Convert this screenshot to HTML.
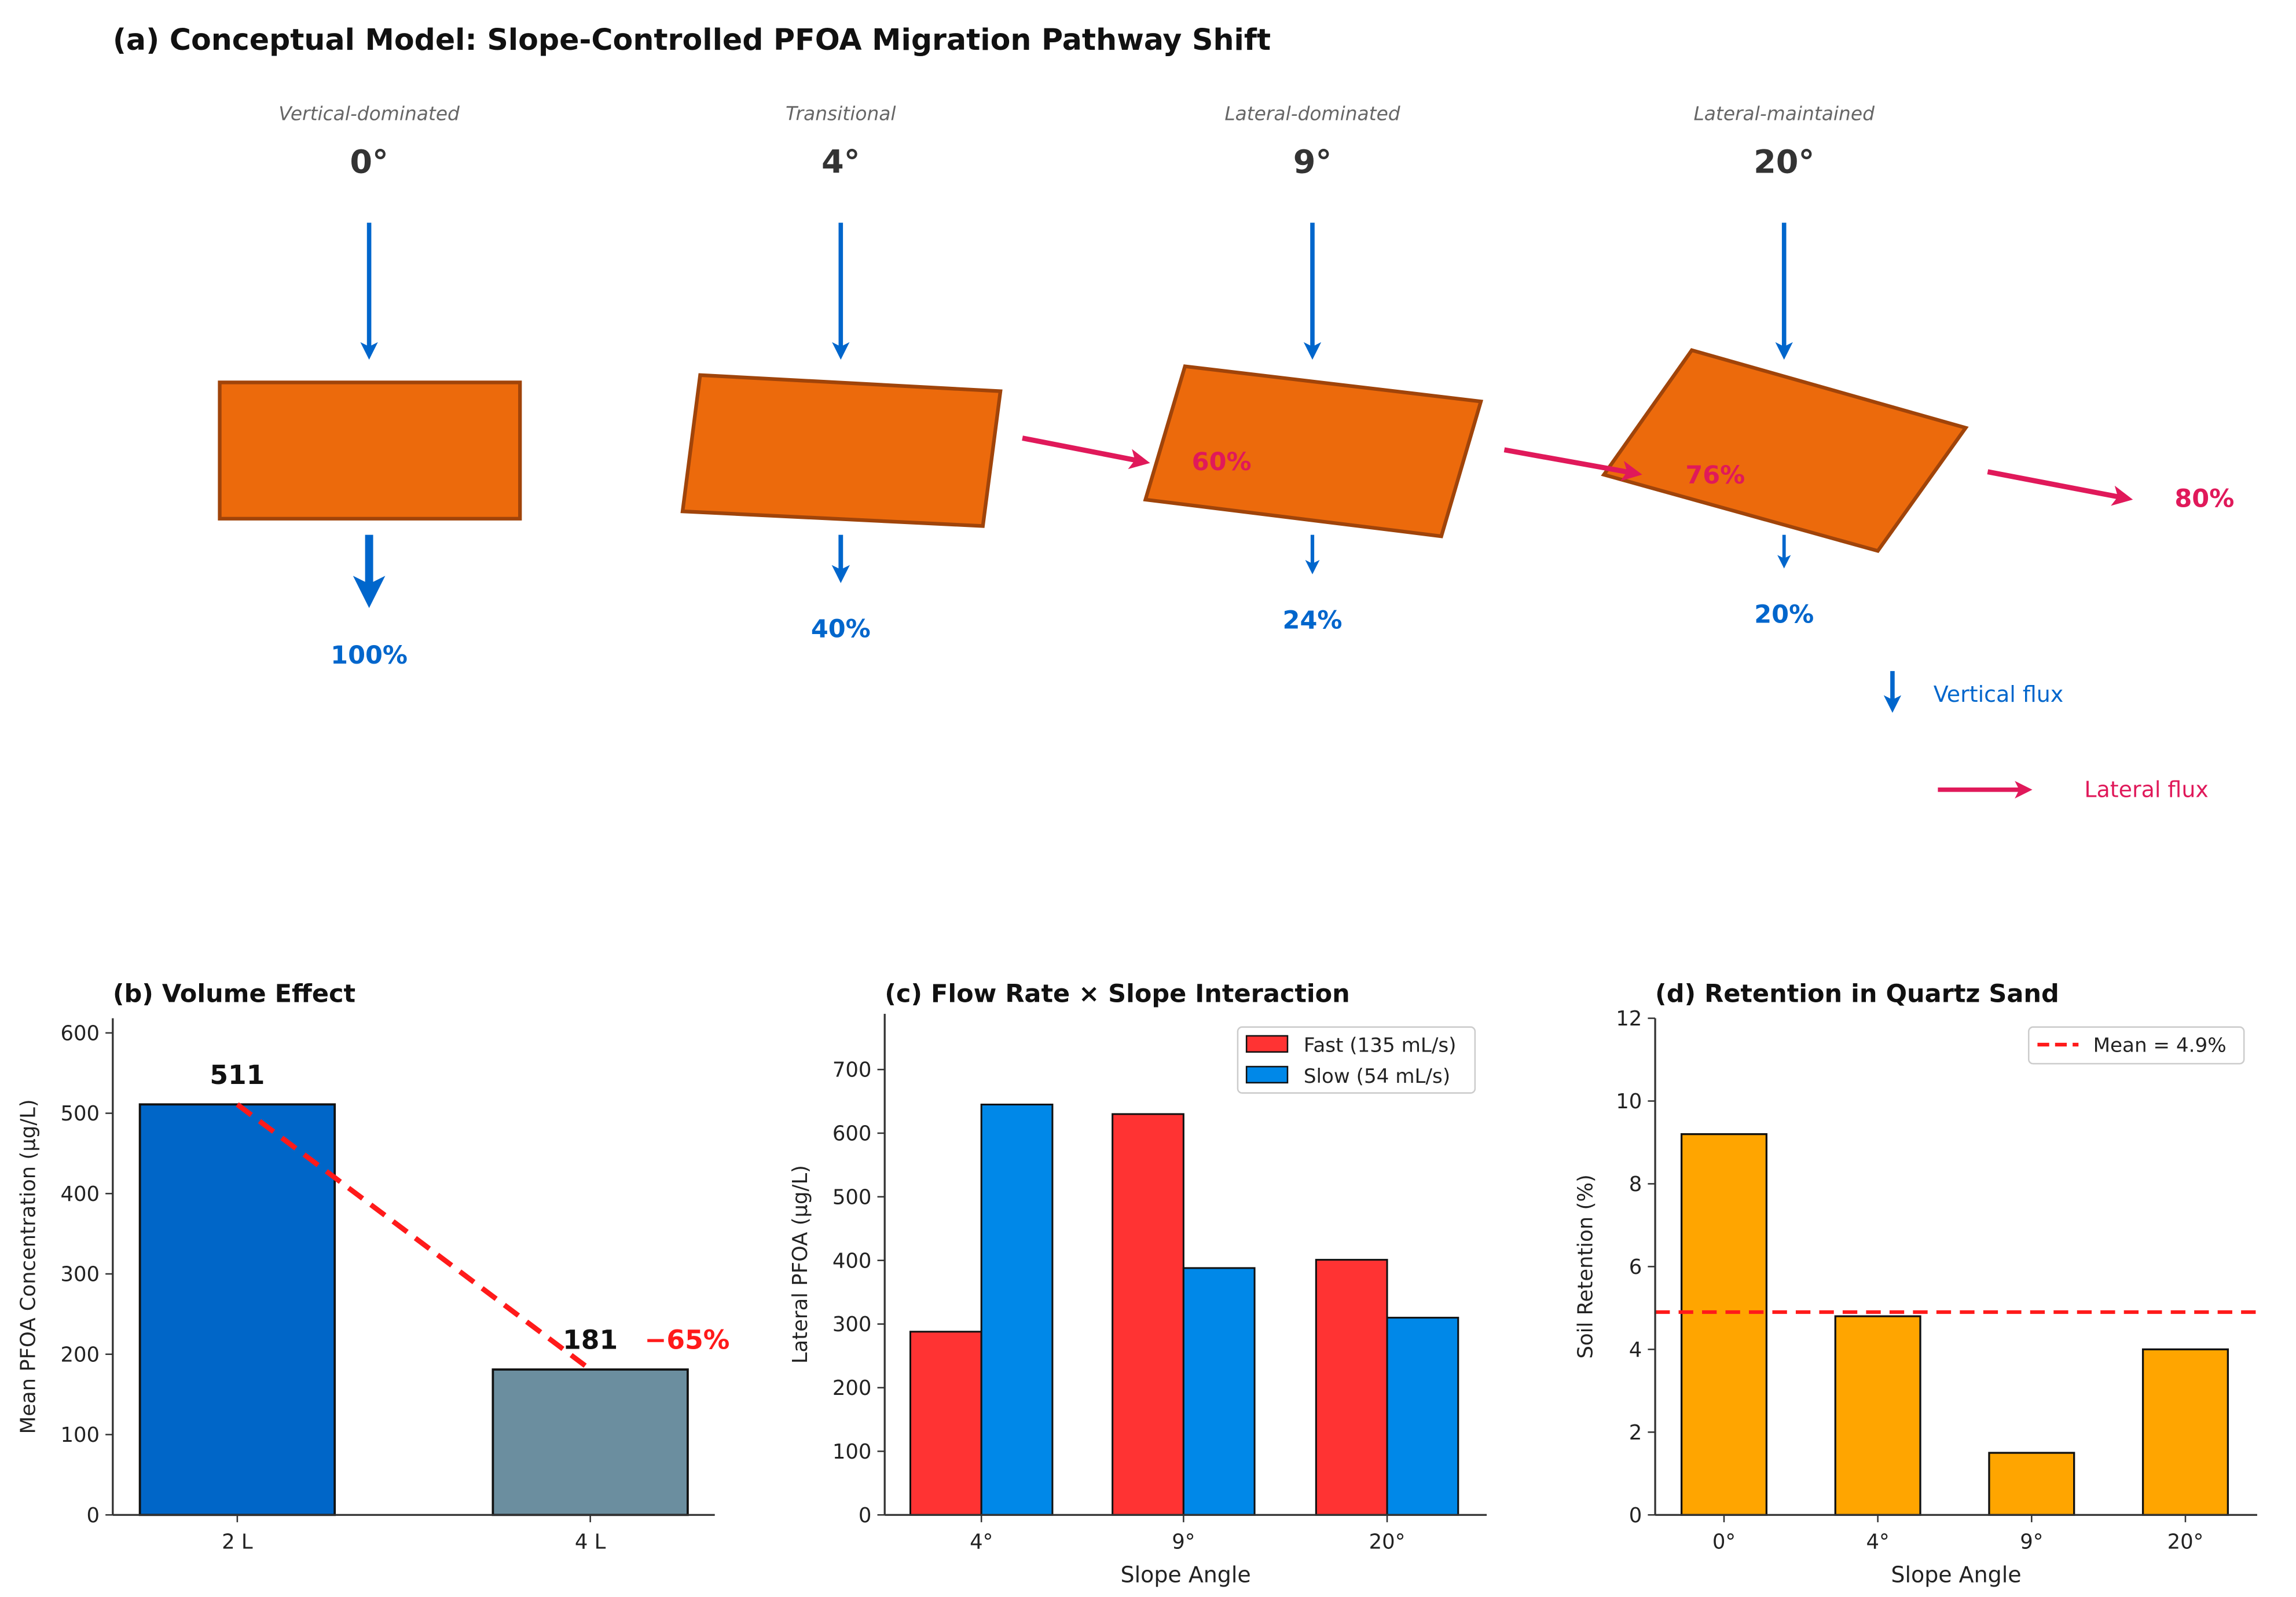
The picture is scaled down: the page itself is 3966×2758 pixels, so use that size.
<!DOCTYPE html>
<html><head><meta charset="utf-8"><style>
html,body{margin:0;padding:0;background:#fff}
svg{display:block}
text{font-family:"DejaVu Sans","Liberation Sans",sans-serif}
</style></head><body>
<svg id="fig" width="3966" height="2758" viewBox="0 0 1567.5 1090" xmlns="http://www.w3.org/2000/svg">
<defs>
<marker id="hb" markerWidth="4" markerHeight="4" refX="2.5" refY="2" orient="auto" markerUnits="strokeWidth"><path d="M0,0 L4,2 L0,4 L1,2 z" fill="#0066cc"/></marker>
<marker id="hp" markerWidth="4" markerHeight="4" refX="2.5" refY="2" orient="auto" markerUnits="strokeWidth"><path d="M0,0 L4,2 L0,4 L1,2 z" fill="#e0195a"/></marker>
</defs>
<g id="panel-a">
<text x="77" y="34" font-size="20" font-weight="bold" fill="#111">(a) Conceptual Model: Slope-Controlled PFOA Migration Pathway Shift</text>
</g>
<g id="panel-b"></g>
<g id="panel-c"></g>
<g id="panel-d"></g>
</svg>
<script>
const NS="http://www.w3.org/2000/svg";
// ---- Panel a data ----
const slopeLabels=["0°","4°","9°","20°"];
const regimeLabels=["Vertical-dominated","Transitional","Lateral-dominated","Lateral-maintained"];
const verticalPct=[100,40,24,20];
const lateralPct=[0,60,76,80];
// ---- Panel b data ----
const volCats=["2 L","4 L"];
const volVals=[511,181];
const volTicks=[0,100,200,300,400,500,600];
// ---- Panel c data ----
const flowCats=["4°","9°","20°"];
const fastVals=[288,630,401];
const slowVals=[645,388,310];
const flowTicks=[0,100,200,300,400,500,600,700];
// ---- Panel d data ----
const retCats=["0°","4°","9°","20°"];
const retVals=[9.2,4.8,1.5,4.0];
const retMean=4.9;
const retTicks=[0,2,4,6,8,10,12];

function el(tag,attrs,parent,txt){const e=document.createElementNS(NS,tag);for(const k in attrs)e.setAttribute(k,attrs[k]);if(txt!==undefined)e.textContent=txt;parent.appendChild(e);return e;}

// Panel a
(function(){
 const g=document.getElementById('panel-a');
 const cx=[252,574,896,1218];
 const shapes=[
  [[150,261],[355,261],[355,354],[150,354]],
  [[478,256],[683,267],[671,359],[466,349]],
  [[809,250],[1011,274],[984,366],[782,341]],
  [[1155,239],[1342,292],[1282,376],[1095,324]]];
 const botEnd=[415,398,392,388];
 const pctY=[453,435,429,425];
 const lat=[null,[698,299,786,316],[1027,307,1122,324],[1357,322,1457,341]];
 const latLbl=[null,[834,321],[1171,330],[1505,346]];
 for(let i=0;i<4;i++){
  const t1=el('text',{x:cx[i],y:82,'font-size':13,'font-style':'italic','fill':'#666','text-anchor':'middle'},g,regimeLabels[i]);
  
  
  const t2=el('text',{x:cx[i],y:118,'font-size':22,'font-weight':'bold','fill':'#333','text-anchor':'middle'},g,slopeLabels[i]);
  
  
  const a1=el('line',{x1:cx[i],y1:152,x2:cx[i],y2:241,stroke:'#0066cc','stroke-width':3,'marker-end':'url(#hb)'},g);
  
  
  const p=el('polygon',{points:shapes[i].map(q=>q.join(',')).join(' '),fill:'#ec6a0c',stroke:'#a0440a','stroke-width':2.5},g);
  
  
  const w=1.5+verticalPct[i]/25;
  const a2=el('line',{x1:cx[i],y1:365,x2:cx[i],y2:botEnd[i]-w*1.5,stroke:'#0066cc','stroke-width':w,'marker-end':'url(#hb)'},g);
  
  
  const t3=el('text',{x:cx[i],y:pctY[i],'font-size':17,'font-weight':'bold',fill:'#0066cc','text-anchor':'middle'},g,verticalPct[i]+'%');
  
  
 }
 for(let i=1;i<4;i++){
   const L=lat[i];
   const a3=el('line',{x1:L[0],y1:L[1],x2:L[2]-6,y2:L[3]-1,stroke:'#e0195a','stroke-width':3.5,'marker-end':'url(#hp)'},g);
   
   
   const t4=el('text',{x:latLbl[i][0],y:latLbl[i][1],'font-size':17,'font-weight':'bold',fill:'#e0195a','text-anchor':'middle'},g,lateralPct[i]+'%');
   
   
 }
 const l1=el('line',{x1:1292,y1:458,x2:1292,y2:482,stroke:'#0066cc','stroke-width':3,'marker-end':'url(#hb)'},g);
 
 
 const lt1=el('text',{x:1320,y:479,'font-size':15,fill:'#0066cc'},g,'Vertical flux');
 
 
 const l2=el('line',{x1:1323,y1:539,x2:1383,y2:539,stroke:'#e0195a','stroke-width':3,'marker-end':'url(#hp)'},g);
 
 
 const lt2=el('text',{x:1423,y:544,'font-size':15,fill:'#e0195a'},g,'Lateral flux');
 
 
})();

function axes(g,o){
 const ys=v=>o.y0-(v/o.vmax)*(o.y0-o.ymaxPx);
 const t=el('text',{x:o.x0,y:684,'font-size':17,'font-weight':'bold',fill:'#111'},g,o.title);
 
 
 o.ticks.forEach(v=>{
  const y=ys(v);
  el('line',{x1:o.x0-5,y1:y,x2:o.x0,y2:y,stroke:'#333','stroke-width':1},g);
  const tt=el('text',{x:o.x0-9,y:y+5,'font-size':14,fill:'#222','text-anchor':'end'},g,v);
  
  
 });
 const yl=el('text',{x:0,y:0,'font-size':14,fill:'#222','text-anchor':'middle',transform:`translate(${o.ylabelX},${(o.y0+o.yTop)/2}) rotate(-90)`},g,o.ylabel);
 
 
 if(o.xlabel){
  const xl=el('text',{x:(o.x0+o.x1)/2,y:1080,'font-size':15,fill:'#222','text-anchor':'middle'},g,o.xlabel);
  
  
 }
 return ys;
}
function finishAxes(g,o){
 el('line',{x1:o.x0,y1:o.yTop,x2:o.x0,y2:o.y0,stroke:'#333','stroke-width':1.3},g);
 el('line',{x1:o.x0,y1:o.y0,x2:o.x1,y2:o.y0,stroke:'#333','stroke-width':1.3},g);
}
function xtick(g,x,y0,label){
 el('line',{x1:x,y1:y0,x2:x,y2:y0+5,stroke:'#333','stroke-width':1},g);
 const t=el('text',{x:x,y:y0+23,'font-size':14,fill:'#222','text-anchor':'middle'},g,label);
 
 
}

// Panel b
(function(){
 const g=document.getElementById('panel-b');
 const o={x0:77,x1:488,y0:1034,yTop:695,ymaxPx:705,vmax:600,ticks:volTicks,title:'(b) Volume Effect',ylabel:'Mean PFOA Concentration (µg/L)',ylabelX:24};
 const ys=axes(g,o);
 const xc=[162,403],bw=133,cols=['#0066c8','#6b8e9f'];
 volVals.forEach((v,i)=>{
  const r=el('rect',{x:xc[i]-bw/2,y:ys(v),width:bw,height:o.y0-ys(v),fill:cols[i],stroke:'#111','stroke-width':1.5},g);
  
  
  const t=el('text',{x:xc[i],y:ys(v)-14,'font-size':18,'font-weight':'bold',fill:'#111','text-anchor':'middle'},g,v);
  
  
  xtick(g,xc[i],o.y0,volCats[i]);
 });
 const ln=el('line',{x1:xc[0],y1:ys(volVals[0]),x2:xc[1],y2:ys(volVals[1]),stroke:'#ff1a1a','stroke-width':3.5,'stroke-dasharray':'12,7'},g);
 
 
 const pct=Math.round((volVals[1]-volVals[0])/volVals[0]*100);
 const t=el('text',{x:440,y:ys(volVals[1])-14,'font-size':18,'font-weight':'bold',fill:'#ff1a1a'},g,'−'+Math.abs(pct)+'%');
 
 
 finishAxes(g,o);
})();

// Panel c
(function(){
 const g=document.getElementById('panel-c');
 const o={x0:604,x1:1015,y0:1034,yTop:692,ymaxPx:730,vmax:700,ticks:flowTicks,title:'(c) Flow Rate × Slope Interaction',ylabel:'Lateral PFOA (µg/L)',ylabelX:551,xlabel:'Slope Angle'};
 const ys=axes(g,o);
 const xc=[670,808,947],bw=48.5;
 flowCats.forEach((c,i)=>{
  const r1=el('rect',{x:xc[i]-bw,y:ys(fastVals[i]),width:bw,height:o.y0-ys(fastVals[i]),fill:'#ff3333',stroke:'#111','stroke-width':1.2},g);
  
  
  const r2=el('rect',{x:xc[i],y:ys(slowVals[i]),width:bw,height:o.y0-ys(slowVals[i]),fill:'#0088e8',stroke:'#111','stroke-width':1.2},g);
  
  
  xtick(g,xc[i],o.y0,c);
 });
 const lg=el('g',{},g);
 
 
 el('rect',{x:845,y:701,width:162,height:45,fill:'#fff',stroke:'#ccc','stroke-width':1,rx:3},lg);
 el('rect',{x:851,y:707,width:28,height:11,fill:'#ff3333',stroke:'#111','stroke-width':1},lg);
 const a=el('text',{x:890,y:718,'font-size':13.5,fill:'#222'},lg,'Fast (135 mL/s)');
 
 
 el('rect',{x:851,y:728,width:28,height:11,fill:'#0088e8',stroke:'#111','stroke-width':1},lg);
 const b=el('text',{x:890,y:739,'font-size':13.5,fill:'#222'},lg,'Slow (54 mL/s)');
 
 
 finishAxes(g,o);
})();

// Panel d
(function(){
 const g=document.getElementById('panel-d');
 const o={x0:1130,x1:1541,y0:1034,yTop:695,ymaxPx:695,vmax:12,ticks:retTicks,title:'(d) Retention in Quartz Sand',ylabel:'Soil Retention (%)',ylabelX:1087,xlabel:'Slope Angle'};
 const ys=axes(g,o);
 const xc=[1177,1282,1387,1492],bw=58;
 retCats.forEach((c,i)=>{
  const r=el('rect',{x:xc[i]-bw/2,y:ys(retVals[i]),width:bw,height:o.y0-ys(retVals[i]),fill:'#ffa500',stroke:'#111','stroke-width':1.3},g);
  
  
  xtick(g,xc[i],o.y0,c);
 });
 const ml=el('line',{x1:o.x0,y1:ys(retMean),x2:o.x1,y2:ys(retMean),stroke:'#ff1a1a','stroke-width':2.5,'stroke-dasharray':'10,6'},g);
 
 
 const lg=el('g',{},g);
 
 
 el('rect',{x:1385,y:701,width:147,height:25,fill:'#fff',stroke:'#ccc','stroke-width':1,rx:3},lg);
 el('line',{x1:1391,y1:713,x2:1419,y2:713,stroke:'#ff1a1a','stroke-width':2.5,'stroke-dasharray':'8,4'},lg);
 const t=el('text',{x:1429,y:718,'font-size':13.5,fill:'#222'},lg,'Mean = '+retMean+'%');
 
 
 finishAxes(g,o);
})();
</script>
</body></html>
